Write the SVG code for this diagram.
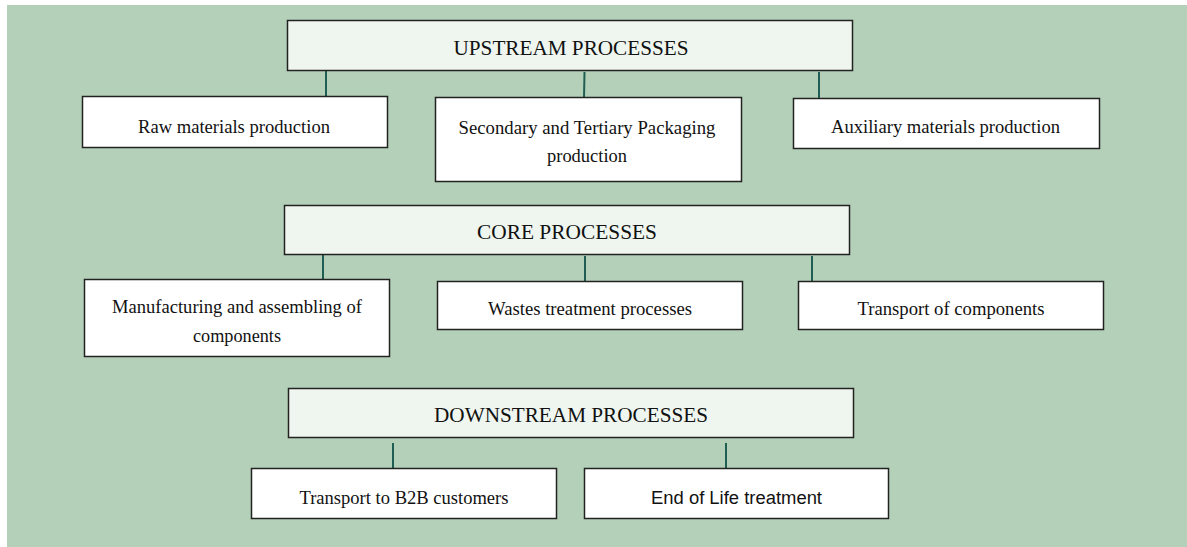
<svg xmlns="http://www.w3.org/2000/svg" width="1187" height="547" viewBox="0 0 1187 547">
<style>
.hdr{fill:#eff6ef;stroke:#222;stroke-width:1.5}
.box{fill:#fff;stroke:#222;stroke-width:1.5}
.t{font-family:"Liberation Serif","Times New Roman",serif;font-size:18.5px;fill:#111;text-anchor:middle}
.h{font-family:"Liberation Serif","Times New Roman",serif;font-size:21px;fill:#111;text-anchor:middle}
.s{font-family:"Liberation Sans",Arial,sans-serif;font-size:18px;fill:#111;text-anchor:middle}
.c line{stroke:#1f5e52;stroke-width:2}
</style>
<rect x="7" y="5" width="1182" height="545" fill="#b4d0b8"/>
<g class="c" id="connectors">
<line x1="326" y1="71" x2="326" y2="96"/>
<line x1="584.5" y1="72" x2="584" y2="98"/>
<line x1="819" y1="72" x2="819" y2="98"/>
<line x1="323" y1="255" x2="323" y2="280"/>
<line x1="585" y1="256" x2="585" y2="281"/>
<line x1="812" y1="256" x2="812" y2="281"/>
<line x1="393" y1="443" x2="393" y2="468"/>
<line x1="726" y1="443" x2="726" y2="468"/>
</g>
<g id="upstream"><rect class="hdr" x="287.5" y="20.5" width="565" height="50"/><text class="h" x="571" y="55" textLength="235" lengthAdjust="spacingAndGlyphs">UPSTREAM PROCESSES</text></g>
<g id="raw"><rect class="box" x="82.5" y="96.5" width="305" height="51"/><text class="t" x="234" y="133" textLength="192" lengthAdjust="spacingAndGlyphs">Raw materials production</text></g>
<g id="packaging"><rect class="box" x="435.5" y="97.5" width="306" height="84"/><text class="t" x="587" y="134" textLength="257" lengthAdjust="spacingAndGlyphs">Secondary and Tertiary Packaging</text><text class="t" x="587" y="162" textLength="80" lengthAdjust="spacingAndGlyphs">production</text></g>
<g id="auxiliary"><rect class="box" x="793.5" y="98.5" width="306" height="50"/><text class="t" x="945.5" y="133" textLength="229" lengthAdjust="spacingAndGlyphs">Auxiliary materials production</text></g>
<g id="core"><rect class="hdr" x="284.5" y="205.5" width="565" height="49"/><text class="h" x="567" y="239" textLength="180" lengthAdjust="spacingAndGlyphs">CORE PROCESSES</text></g>
<g id="manufacturing"><rect class="box" x="84.5" y="279.5" width="305" height="77"/><text class="t" x="237" y="313" textLength="250" lengthAdjust="spacingAndGlyphs">Manufacturing and assembling of</text><text class="t" x="237" y="342" textLength="88" lengthAdjust="spacingAndGlyphs">components</text></g>
<g id="wastes"><rect class="box" x="437.5" y="281.5" width="305" height="48"/><text class="t" x="590" y="315" textLength="204" lengthAdjust="spacingAndGlyphs">Wastes treatment processes</text></g>
<g id="transport"><rect class="box" x="798.5" y="281.5" width="305" height="48"/><text class="t" x="951" y="315" textLength="187" lengthAdjust="spacingAndGlyphs">Transport of components</text></g>
<g id="downstream"><rect class="hdr" x="288.5" y="388.5" width="565" height="49"/><text class="h" x="571" y="422" textLength="274" lengthAdjust="spacingAndGlyphs">DOWNSTREAM PROCESSES</text></g>
<g id="b2b"><rect class="box" x="251.5" y="468.5" width="305" height="50"/><text class="t" x="404" y="504" textLength="209" lengthAdjust="spacingAndGlyphs">Transport to B2B customers</text></g>
<g id="eol"><rect class="box" x="584.5" y="468.5" width="304" height="50"/><text class="s" x="736.5" y="504" textLength="171" lengthAdjust="spacingAndGlyphs">End of Life treatment</text></g>
</svg>
